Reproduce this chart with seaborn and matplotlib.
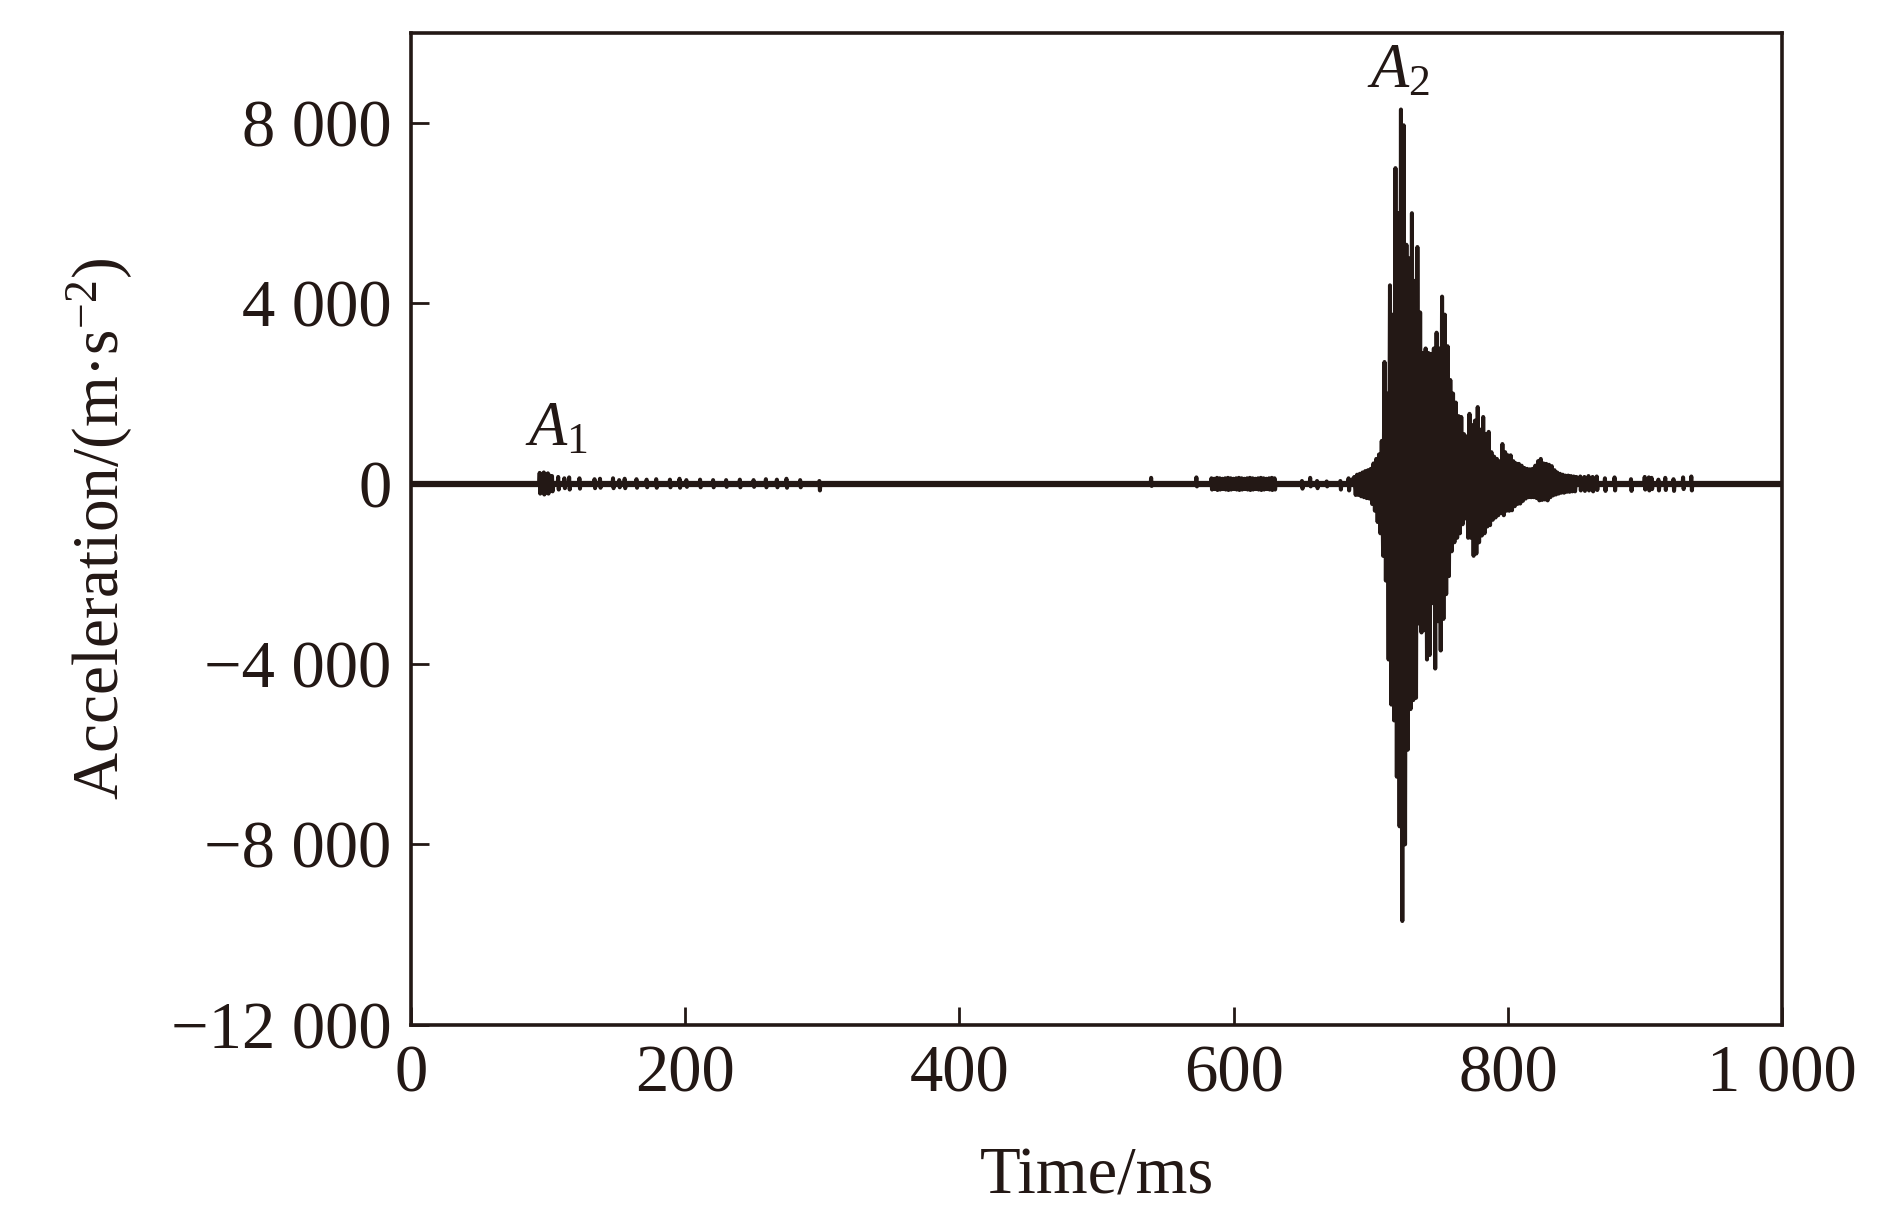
import numpy as np
import pandas as pd
import seaborn as sns
import matplotlib.pyplot as plt

# burst around A2, sampled every 1 ms from 688 ms (alternating peaks / troughs)
burst_start = 688
burst_acc = [
    150, -250, 200, -250, 220, -280, 250, -300, 280, -320, 300, -330,   # 688-699
    330, -450, 450, -600, 550, -850, 650, -1100, 950, -1600,            # 700-709
    2700, -2150, 2000, -3900, 4400, -4900, 3750, -5250, 7000, -6500,    # 710-719
    6000, -7600, 8300, -9700, 7950, -8000, 5300, -5900, 5000, -5000,    # 720-729
    6000, -4800, 4500, -4750, 5250, -3100, 3800, -3300, 2900, -3250,    # 730-739
    3000, -3900, 2900, -3800, 2880, -2650, 3000, -4100, 3350, -3050,    # 740-749
    3000, -3700, 4150, -3000, 3750, -2450, 3050, -2050, 2300, -1500,    # 750-759
    2000, -1300, 1800, -1200, 1500, -1100, 1480, -900, 1100, -770,      # 760-769
    1050, -1200, 1550, -1200, 1300, -1600, 1400, -1550, 1700, -1300,    # 770-779
    1200, -1150, 1480, -1100, 1100, -950, 1150, -920, 700, -800,        # 780-789
    600, -750, 550, -700, 500, -650, 880, -700, 700, -600,              # 790-799
    630, -600, 630, -590, 500, -500, 450, -450, 440, -440,              # 800-809
    400, -380, 350, -330, 330, -300, 320, -300, 330, -300,              # 810-819
    400, -320, 500, -370, 550, -360, 450, -350, 440, -370,              # 820-829
    420, -300, 390, -260, 300, -240, 250, -220, 220, -200,              # 830-839
    200, -200, 180, -180, 180, -180, 170, -170, 160, -170,              # 840-849
    150,                                                                 # 850
]

# isolated small oscillations: centre time (ms), upper and lower value
blip_t = [94, 95.5, 97, 98.5, 100, 101.5, 103, 107.5, 112, 115.5, 123, 134, 138,
          147.5, 152, 156, 164.6, 172, 179, 189, 196, 201, 211, 220.5, 230, 240,
          250, 259, 267, 274, 284, 298,
          540, 573,
          584, 586, 588, 590, 592, 594, 596, 598, 600, 602, 604, 606, 608, 610,
          612, 614, 616, 618, 620, 622, 624, 626, 628, 630,
          650, 656, 661, 668, 678, 684,
          853, 856, 859, 862, 865, 871, 878, 890, 900, 903, 905, 910, 915, 921,
          928, 934]
blip_hi = [240, 200, 250, 200, 230, 180, 170, 150, 120, 140, 120, 100, 110,
           120, 80, 110, 100, 90, 100, 90, 110, 80, 90, 80, 80, 90,
           80, 100, 90, 110, 80, 60,
           130, 140,
           120, 110, 130, 120, 110, 120, 130, 120, 110, 120, 130, 120, 110, 120,
           130, 120, 110, 120, 130, 120, 110, 120, 130, 120,
           60, 130, 60, 50, 60, 120,
           160, 150, 170, 150, 160, 120, 140, 100, 150, 140, 130, 90, 130, 100,
           140, 160]
blip_lo = [-220, -180, -240, -190, -220, -160, -170, -130, -100, -130, -110, -100, -90,
           -100, -80, -100, -90, -80, -90, -80, -90, -70, -80, -80, -70, -80,
           -70, -80, -80, -90, -80, -150,
           -50, -60,
           -130, -120, -140, -130, -120, -130, -140, -130, -120, -130, -140, -130, -120, -130,
           -140, -130, -120, -130, -140, -130, -120, -130, -140, -130,
           -110, -60, -100, -60, -130, -150,
           -150, -160, -150, -170, -140, -160, -150, -160, -130, -150, -120, -150, -140, -160,
           -120, -150]

t_range = [0, 1000]
xticks = [0, 200, 400, 600, 800, 1000]
xtick_labels = ['0', '200', '400', '600', '800', '1 000']
yticks = [-12000, -8000, -4000, 0, 4000, 8000]
ytick_labels = ['\u221212 000', '\u22128 000', '\u22124 000', '0', '4 000', '8 000']

ink = '#231815'

# assemble one trace
rows = [(t_range[0], 0.0), (t_range[1], 0.0)]
for c, hi, lo in zip(blip_t, blip_hi, blip_lo):
    rows += [(c - 0.6, 0.0), (c - 0.2, hi), (c + 0.2, lo), (c + 0.6, 0.0)]
for i, a in enumerate(burst_acc):
    rows.append((burst_start + i, a))
signal = pd.DataFrame(rows, columns=['Time', 'Acceleration']).sort_values('Time')
floor = pd.DataFrame({'Time': t_range, 'Acceleration': [0, 0]})

sns.set_theme(style='ticks')
plt.rcParams['font.family'] = ['Liberation Serif', 'DejaVu Serif']
plt.rcParams['mathtext.fontset'] = 'custom'
plt.rcParams['mathtext.rm'] = 'Liberation Serif'
plt.rcParams['mathtext.it'] = 'Liberation Serif:italic'

fig = plt.figure(figsize=(18.9, 12.17), dpi=100)
ax = fig.add_axes([0.2175, 0.158, 0.7254, 0.815])

sns.lineplot(data=floor, x='Time', y='Acceleration', color=ink, lw=4.5, ax=ax)
sns.lineplot(data=signal, x='Time', y='Acceleration', color=ink, lw=2.9,
             estimator=None, sort=False, ax=ax)

ax.set_xlim(0, 1000)
ax.set_ylim(-12000, 10000)
ax.set_xticks(xticks)
ax.set_xticklabels(xtick_labels)
ax.set_yticks(yticks)
ax.set_yticklabels(ytick_labels)
ax.tick_params(direction='in', length=13, width=2, top=False, right=False,
               labelsize=48, pad=14, colors=ink)
for s in ax.spines.values():
    s.set_linewidth(2.6)
    s.set_color(ink)

ax.set_xlabel('Time/ms', fontsize=48, color=ink, labelpad=30)
ax.set_ylabel('Acceleration/(m\u00b7s$^{-2}$)', fontsize=47, color=ink, labelpad=26)

ax.text(106, 850, r'$A_1$', fontsize=45, color=ink, ha='center', va='baseline')
ax.text(720, 8800, r'$A_2$', fontsize=45, color=ink, ha='center', va='baseline')

fig.savefig('out.png', dpi=100)
